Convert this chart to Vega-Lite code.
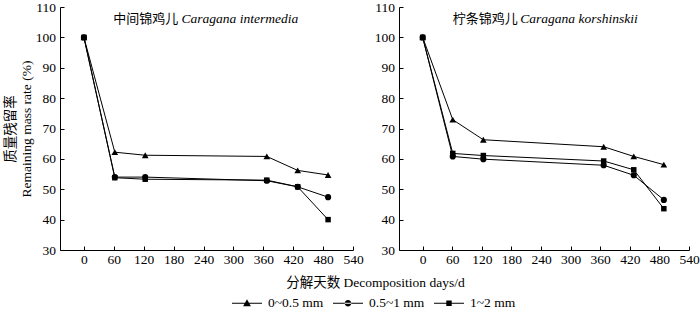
{
  "$schema": "https://vega.github.io/schema/vega-lite/v6.json",
  "background": "white",
  "padding": {"left": 2, "top": 0, "right": 5, "bottom": 0},
  "config": {
    "font": "Liberation Serif, Noto Sans CJK SC",
    "view": {"stroke": null},
    "axis": {
      "labelFont": "Liberation Serif",
      "labelFontSize": 13.5,
      "labelColor": "black",
      "labelOverlap": false,
      "titleFont": "Liberation Serif, Noto Sans CJK SC",
      "titleFontSize": 13.5,
      "titleFontWeight": "normal",
      "titleColor": "black",
      "domainColor": "black",
      "tickColor": "black",
      "grid": false,
      "tickSize": -4,
      "tickCount": 20
    },
    "concat": {"spacing": 46}
  },
  "datasets": {
    "d": [
      {"panel": "A", "size": "0~0.5 mm", "day": 0, "value": 100},
      {"panel": "A", "size": "0~0.5 mm", "day": 62, "value": 62.2},
      {"panel": "A", "size": "0~0.5 mm", "day": 123, "value": 61.2},
      {"panel": "A", "size": "0~0.5 mm", "day": 367, "value": 60.8},
      {"panel": "A", "size": "0~0.5 mm", "day": 429, "value": 56.2},
      {"panel": "A", "size": "0~0.5 mm", "day": 490, "value": 54.7},
      {"panel": "A", "size": "0.5~1 mm", "day": 0, "value": 100},
      {"panel": "A", "size": "0.5~1 mm", "day": 62, "value": 54.0},
      {"panel": "A", "size": "0.5~1 mm", "day": 123, "value": 54.0},
      {"panel": "A", "size": "0.5~1 mm", "day": 367, "value": 52.8},
      {"panel": "A", "size": "0.5~1 mm", "day": 429, "value": 50.8},
      {"panel": "A", "size": "0.5~1 mm", "day": 490, "value": 47.4},
      {"panel": "A", "size": "1~2 mm", "day": 0, "value": 100},
      {"panel": "A", "size": "1~2 mm", "day": 62, "value": 53.8},
      {"panel": "A", "size": "1~2 mm", "day": 123, "value": 53.3},
      {"panel": "A", "size": "1~2 mm", "day": 367, "value": 53.0},
      {"panel": "A", "size": "1~2 mm", "day": 429, "value": 50.8},
      {"panel": "A", "size": "1~2 mm", "day": 490, "value": 40.0},
      {"panel": "B", "size": "0~0.5 mm", "day": 0, "value": 100},
      {"panel": "B", "size": "0~0.5 mm", "day": 61, "value": 72.9},
      {"panel": "B", "size": "0~0.5 mm", "day": 123, "value": 66.3},
      {"panel": "B", "size": "0~0.5 mm", "day": 367, "value": 64.0},
      {"panel": "B", "size": "0~0.5 mm", "day": 428, "value": 60.8},
      {"panel": "B", "size": "0~0.5 mm", "day": 489, "value": 58.1},
      {"panel": "B", "size": "0.5~1 mm", "day": 0, "value": 100},
      {"panel": "B", "size": "0.5~1 mm", "day": 61, "value": 60.8},
      {"panel": "B", "size": "0.5~1 mm", "day": 123, "value": 59.9},
      {"panel": "B", "size": "0.5~1 mm", "day": 367, "value": 57.9},
      {"panel": "B", "size": "0.5~1 mm", "day": 428, "value": 54.6},
      {"panel": "B", "size": "0.5~1 mm", "day": 489, "value": 46.5},
      {"panel": "B", "size": "1~2 mm", "day": 0, "value": 100},
      {"panel": "B", "size": "1~2 mm", "day": 61, "value": 61.8},
      {"panel": "B", "size": "1~2 mm", "day": 123, "value": 61.1},
      {"panel": "B", "size": "1~2 mm", "day": 367, "value": 59.3},
      {"panel": "B", "size": "1~2 mm", "day": 428, "value": 56.4},
      {"panel": "B", "size": "1~2 mm", "day": 489, "value": 43.6}
    ],
    "titles": [
      {"panel": "A", "cn": "中间锦鸡儿", "la": "Caragana intermedia", "xcn": 189.5, "xla": 196, "y": 106},
      {"panel": "B", "cn": "柠条锦鸡儿", "la": "Caragana korshinskii", "xcn": 192.7, "xla": 198, "y": 106}
    ]
  },
  "hconcat": [
    {
      "width": 293,
      "height": 243,
      "layer": [
        {
          "data": {"name": "d"},
          "transform": [{"filter": "datum.panel === 'A'"}],
          "mark": {"type": "line", "color": "black", "strokeWidth": 1},
          "encoding": {
            "x": {"field": "day", "type": "quantitative", "scale": {"domain": [-48, 540], "nice": false, "zero": false},
              "axis": {"values": [0, 60, 120, 180, 240, 300, 360, 420, 480, 540], "tickCount": 20, "labelPadding": 6.5, "labelFlush": false, "labelOverlap": false,
                "title": "分解天数 Decomposition days/d", "titleX": 315, "titleY": 32, "titleBaseline": "middle", "titleAlign": "center"}},
            "y": {"field": "value", "type": "quantitative", "scale": {"domain": [30, 110], "nice": false, "zero": false},
              "axis": {"values": [30, 40, 50, 60, 70, 80, 90, 100, 110], "tickCount": 20, "labelPadding": 8.5, "labelOverlap": false,
                "title": ["质量残留率", "Remaining mass rate (%)"], "titleAngle": -90, "titleX": -50, "titleY": 121.5,
                "titleAlign": "center", "titleBaseline": "middle", "titleLineHeight": 16.5}},
            "detail": {"field": "size"}
          }
        },
        {
          "data": {"name": "d"},
          "transform": [{"filter": "datum.panel === 'A' && datum.size === '0~0.5 mm'"}],
          "mark": {"type": "point", "shape": "triangle-up", "filled": true, "color": "black", "opacity": 1, "size": 45},
          "encoding": {"x": {"field": "day", "type": "quantitative"}, "y": {"field": "value", "type": "quantitative"}}
        },
        {
          "data": {"name": "d"},
          "transform": [{"filter": "datum.panel === 'A' && datum.size === '0.5~1 mm'"}],
          "mark": {"type": "point", "shape": "circle", "filled": true, "color": "black", "opacity": 1, "size": 38},
          "encoding": {"x": {"field": "day", "type": "quantitative"}, "y": {"field": "value", "type": "quantitative"}}
        },
        {
          "data": {"name": "d"},
          "transform": [{"filter": "datum.panel === 'A' && datum.size === '1~2 mm'"}],
          "mark": {"type": "point", "shape": "square", "filled": true, "color": "black", "opacity": 1, "size": 30},
          "encoding": {"x": {"field": "day", "type": "quantitative"}, "y": {"field": "value", "type": "quantitative"}}
        },
        {
          "data": {"name": "d"},
          "transform": [{"filter": "datum.panel === 'A'"}],
          "mark": {"type": "point", "filled": true, "color": "black", "size": 0},
          "encoding": {
            "x": {"field": "day", "type": "quantitative"},
            "y": {"field": "value", "type": "quantitative"},
            "shape": {"field": "size", "type": "nominal",
              "scale": {"domain": ["0~0.5 mm", "0.5~1 mm", "1~2 mm"],
                "range": ["M-1,-0.035H1V0.035H-1Z M0,-0.27L0.26,0.2L-0.26,0.2Z",
                          "M-1,-0.035H1V0.035H-1Z M-0.22,0A0.22,0.22 0 1,0 0.22,0A0.22,0.22 0 1,0 -0.22,0Z",
                          "M-1,-0.035H1V0.035H-1Z M-0.18,-0.18H0.18V0.18H-0.18Z"]},
              "legend": {
                "orient": "none", "direction": "horizontal", "legendX": 172, "legendY": 281,
                "title": null, "symbolSize": 900, "symbolFillColor": "black", "symbolStrokeColor": "black",
                "symbolStrokeWidth": 0, "symbolOpacity": 1, "labelFont": "Liberation Serif", "labelFontSize": 13.5,
                "labelColor": "black", "labelOffset": 6, "columnPadding": 9
              }}
          }
        },
        {
          "data": {"name": "titles"},
          "transform": [{"filter": "datum.panel === 'A'"}],
          "mark": {"type": "text", "align": "right", "baseline": "middle", "font": "Noto Sans CJK SC", "fontSize": 13, "color": "black"},
          "encoding": {"x": {"field": "xcn", "type": "quantitative"}, "y": {"field": "y", "type": "quantitative"}, "text": {"field": "cn"}}
        },
        {
          "data": {"name": "titles"},
          "transform": [{"filter": "datum.panel === 'A'"}],
          "mark": {"type": "text", "align": "left", "baseline": "middle", "font": "Liberation Serif", "fontStyle": "italic", "fontSize": 13.5, "color": "black"},
          "encoding": {"x": {"field": "xla", "type": "quantitative"}, "y": {"field": "y", "type": "quantitative"}, "text": {"field": "la"}}
        }
      ]
    },
    {
      "width": 290,
      "height": 243,
      "layer": [
        {
          "data": {"name": "d"},
          "transform": [{"filter": "datum.panel === 'B'"}],
          "mark": {"type": "line", "color": "black", "strokeWidth": 1},
          "encoding": {
            "x": {"field": "day", "type": "quantitative", "scale": {"domain": [-48, 540], "nice": false, "zero": false},
              "axis": {"values": [0, 60, 120, 180, 240, 300, 360, 420, 480, 540], "tickCount": 20, "labelPadding": 6.5, "labelFlush": false, "labelOverlap": false, "title": null}},
            "y": {"field": "value", "type": "quantitative", "scale": {"domain": [30, 110], "nice": false, "zero": false},
              "axis": {"values": [30, 40, 50, 60, 70, 80, 90, 100, 110], "tickCount": 20, "labelPadding": 8.5, "labelOverlap": false, "title": null}},
            "detail": {"field": "size"}
          }
        },
        {
          "data": {"name": "d"},
          "transform": [{"filter": "datum.panel === 'B' && datum.size === '0~0.5 mm'"}],
          "mark": {"type": "point", "shape": "triangle-up", "filled": true, "color": "black", "opacity": 1, "size": 45},
          "encoding": {"x": {"field": "day", "type": "quantitative"}, "y": {"field": "value", "type": "quantitative"}}
        },
        {
          "data": {"name": "d"},
          "transform": [{"filter": "datum.panel === 'B' && datum.size === '0.5~1 mm'"}],
          "mark": {"type": "point", "shape": "circle", "filled": true, "color": "black", "opacity": 1, "size": 38},
          "encoding": {"x": {"field": "day", "type": "quantitative"}, "y": {"field": "value", "type": "quantitative"}}
        },
        {
          "data": {"name": "d"},
          "transform": [{"filter": "datum.panel === 'B' && datum.size === '1~2 mm'"}],
          "mark": {"type": "point", "shape": "square", "filled": true, "color": "black", "opacity": 1, "size": 30},
          "encoding": {"x": {"field": "day", "type": "quantitative"}, "y": {"field": "value", "type": "quantitative"}}
        },
        {
          "data": {"name": "titles"},
          "transform": [{"filter": "datum.panel === 'B'"}],
          "mark": {"type": "text", "align": "right", "baseline": "middle", "font": "Noto Sans CJK SC", "fontSize": 13, "color": "black"},
          "encoding": {"x": {"field": "xcn", "type": "quantitative"}, "y": {"field": "y", "type": "quantitative"}, "text": {"field": "cn"}}
        },
        {
          "data": {"name": "titles"},
          "transform": [{"filter": "datum.panel === 'B'"}],
          "mark": {"type": "text", "align": "left", "baseline": "middle", "font": "Liberation Serif", "fontStyle": "italic", "fontSize": 13.5, "color": "black"},
          "encoding": {"x": {"field": "xla", "type": "quantitative"}, "y": {"field": "y", "type": "quantitative"}, "text": {"field": "la"}}
        }
      ]
    }
  ],
  "resolve": {"scale": {"x": "independent", "y": "independent"}},
  "bounds": "flush"
}
